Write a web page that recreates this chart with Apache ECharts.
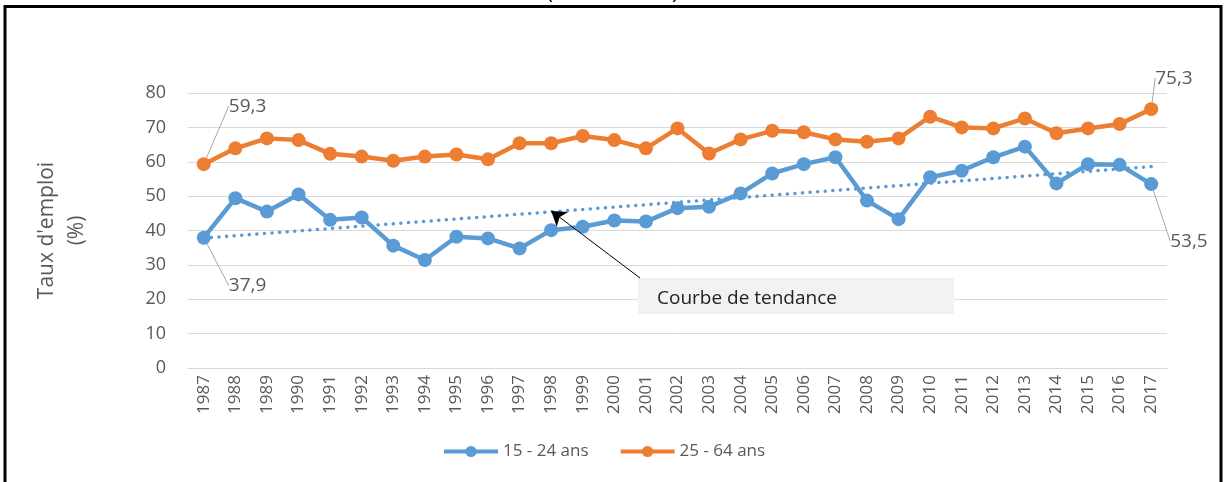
<!DOCTYPE html>
<html>
<head>
<meta charset="utf-8">
<script src="https://cdn.jsdelivr.net/npm/echarts@6/dist/echarts.min.js"></script>
<style>
  html, body { margin: 0; padding: 0; background: #fff; }
  #main { width: 1225px; height: 482px; }
</style>
</head>
<body>
<div id="main"></div>
<script>
var years = ['1987', '1988', '1989', '1990', '1991', '1992', '1993', '1994', '1995', '1996',
    '1997', '1998', '1999', '2000', '2001', '2002', '2003', '2004', '2005', '2006',
    '2007', '2008', '2009', '2010', '2011', '2012', '2013', '2014', '2015', '2016', '2017'];

var young = [37.9, 49.4, 45.5, 50.5, 43.1, 43.8, 35.6, 31.4, 38.2, 37.7,
    34.8, 40.1, 41.1, 42.9, 42.6, 46.5, 46.9, 50.8, 56.6, 59.3,
    61.3, 48.7, 43.3, 55.5, 57.4, 61.3, 64.4, 53.7, 59.3, 59.1, 53.5];

var adults = [59.3, 63.9, 66.8, 66.3, 62.3, 61.5, 60.3, 61.5, 62.1, 60.7,
    65.4, 65.4, 67.5, 66.3, 63.9, 69.7, 62.4, 66.5, 69.0, 68.6,
    66.5, 65.8, 66.8, 73.1, 70.0, 69.7, 72.6, 68.3, 69.7, 71.0, 75.3];

// trend line ends
var trendYears = ['1987', '2017'];
var trendValues = [37.8, 58.6];

var yTicks = [0, 10, 20, 30, 40, 50, 60, 70, 80];

var chart = echarts.init(document.getElementById('main'), null, {renderer: 'canvas'});

var font = "'Open Sans', 'Liberation Sans', sans-serif";
var grey = '#595959';

// label offsets for the first and last points [dx, dy] from the marker centre
var youngOffsets = {first: [25, 48], last: [19, 57]};
var adultOffsets = {first: [25, -58], last: [4, -31]};

function withEndLabels(values) {
    return values.map(function (v, i) {
        if (i === 0 || i === values.length - 1) {
            return {value: v, label: {show: true}, labelLine: {show: true}};
        }
        return v;
    });
}

function endLayout(offsets, count) {
    return function (params) {
        var off = null;
        if (params.dataIndex === 0) off = offsets.first;
        if (params.dataIndex === count - 1) off = offsets.last;
        if (!off) return {};
        var cx = params.rect.x + params.rect.width / 2;
        var cy = params.rect.y + params.rect.height / 2;
        return {x: cx + off[0], y: cy + off[1], align: 'left', verticalAlign: 'middle'};
    };
}

var endLabel = {
    show: false,
    color: grey,
    fontFamily: font,
    fontSize: 19,
    formatter: function (p) { return String(p.value).replace('.', ','); }
};

var option = {
    animation: false,
    backgroundColor: '#fff',
    graphic: [
        {
            type: 'rect',
            shape: {x: 5, y: 6.5, width: 1216, height: 500},
            style: {fill: 'none', stroke: '#000', lineWidth: 3},
            z: 100
        },
        {
            type: 'text',
            left: 'center',
            top: -18,
            style: {text: '(1987 - 2017)', fill: '#000', font: '22px ' + font}
        },
        {
            type: 'rect',
            shape: {x: 638, y: 278, width: 316, height: 36},
            style: {fill: '#f2f2f2'},
            z: 5
        },
        {
            type: 'text',
            x: 657,
            y: 289,
            style: {text: 'Courbe de tendance', fill: '#222', font: '19px ' + font},
            z: 6
        }
    ],
    legend: {
        left: 437,
        top: 438,
        itemWidth: 54,
        itemHeight: 14,
        itemGap: 30,
        textStyle: {color: grey, fontFamily: font, fontSize: 17},
        lineStyle: {width: 4},
        data: ['15 - 24 ans', '25 - 64 ans']
    },
    grid: {left: 188, right: 58, top: 93, bottom: 114},
    xAxis: {
        type: 'category',
        data: years,
        boundaryGap: true,
        axisLine: {lineStyle: {color: '#d9d9d9', width: 1}},
        axisTick: {show: false},
        axisLabel: {rotate: 90, color: grey, fontFamily: font, fontSize: 17, margin: 7, interval: 0}
    },
    yAxis: {
        type: 'value',
        min: yTicks[0],
        max: yTicks[yTicks.length - 1],
        interval: 10,
        name: "Taux d'emploi\n(%)",
        nameLocation: 'middle',
        nameGap: 96,
        nameRotate: 90,
        nameTextStyle: {color: grey, fontFamily: font, fontSize: 21, lineHeight: 30},
        axisLine: {show: false},
        axisTick: {show: false},
        axisLabel: {color: grey, fontFamily: font, fontSize: 18, margin: 22},
        splitLine: {lineStyle: {color: '#d9d9d9', width: 1}}
    },
    series: [
        {
            name: '15 - 24 ans',
            type: 'line',
            data: withEndLabels(young),
            color: '#5b9bd5',
            symbol: 'circle',
            symbolSize: 14,
            lineStyle: {width: 4.5},
            label: endLabel,
            labelLine: {lineStyle: {color: '#a6a6a6', width: 1}},
            labelLayout: endLayout(youngOffsets, young.length),
            z: 3
        },
        {
            name: '25 - 64 ans',
            type: 'line',
            data: withEndLabels(adults),
            color: '#ed7d31',
            symbol: 'circle',
            symbolSize: 14,
            lineStyle: {width: 4.5},
            label: endLabel,
            labelLine: {lineStyle: {color: '#a6a6a6', width: 1}},
            labelLayout: endLayout(adultOffsets, adults.length),
            z: 3
        },
        {
            name: 'tendance',
            type: 'line',
            data: trendYears.map(function (y, i) { return [y, trendValues[i]]; }),
            showSymbol: false,
            symbol: 'none',
            color: '#5b9bd5',
            lineStyle: {width: 3.5, type: [0.1, 7.5], cap: 'round'},
            z: 2,
            markLine: {
                silent: true,
                symbol: ['none', 'arrow'],
                symbolSize: 14,
                label: {show: false},
                lineStyle: {color: '#000', width: 1, type: 'solid', cap: 'butt'},
                data: [[{x: 640, y: 278}, {coord: ['1998', 45.7]}]]
            }
        }
    ]
};

chart.setOption(option);
</script>
</body>
</html>
